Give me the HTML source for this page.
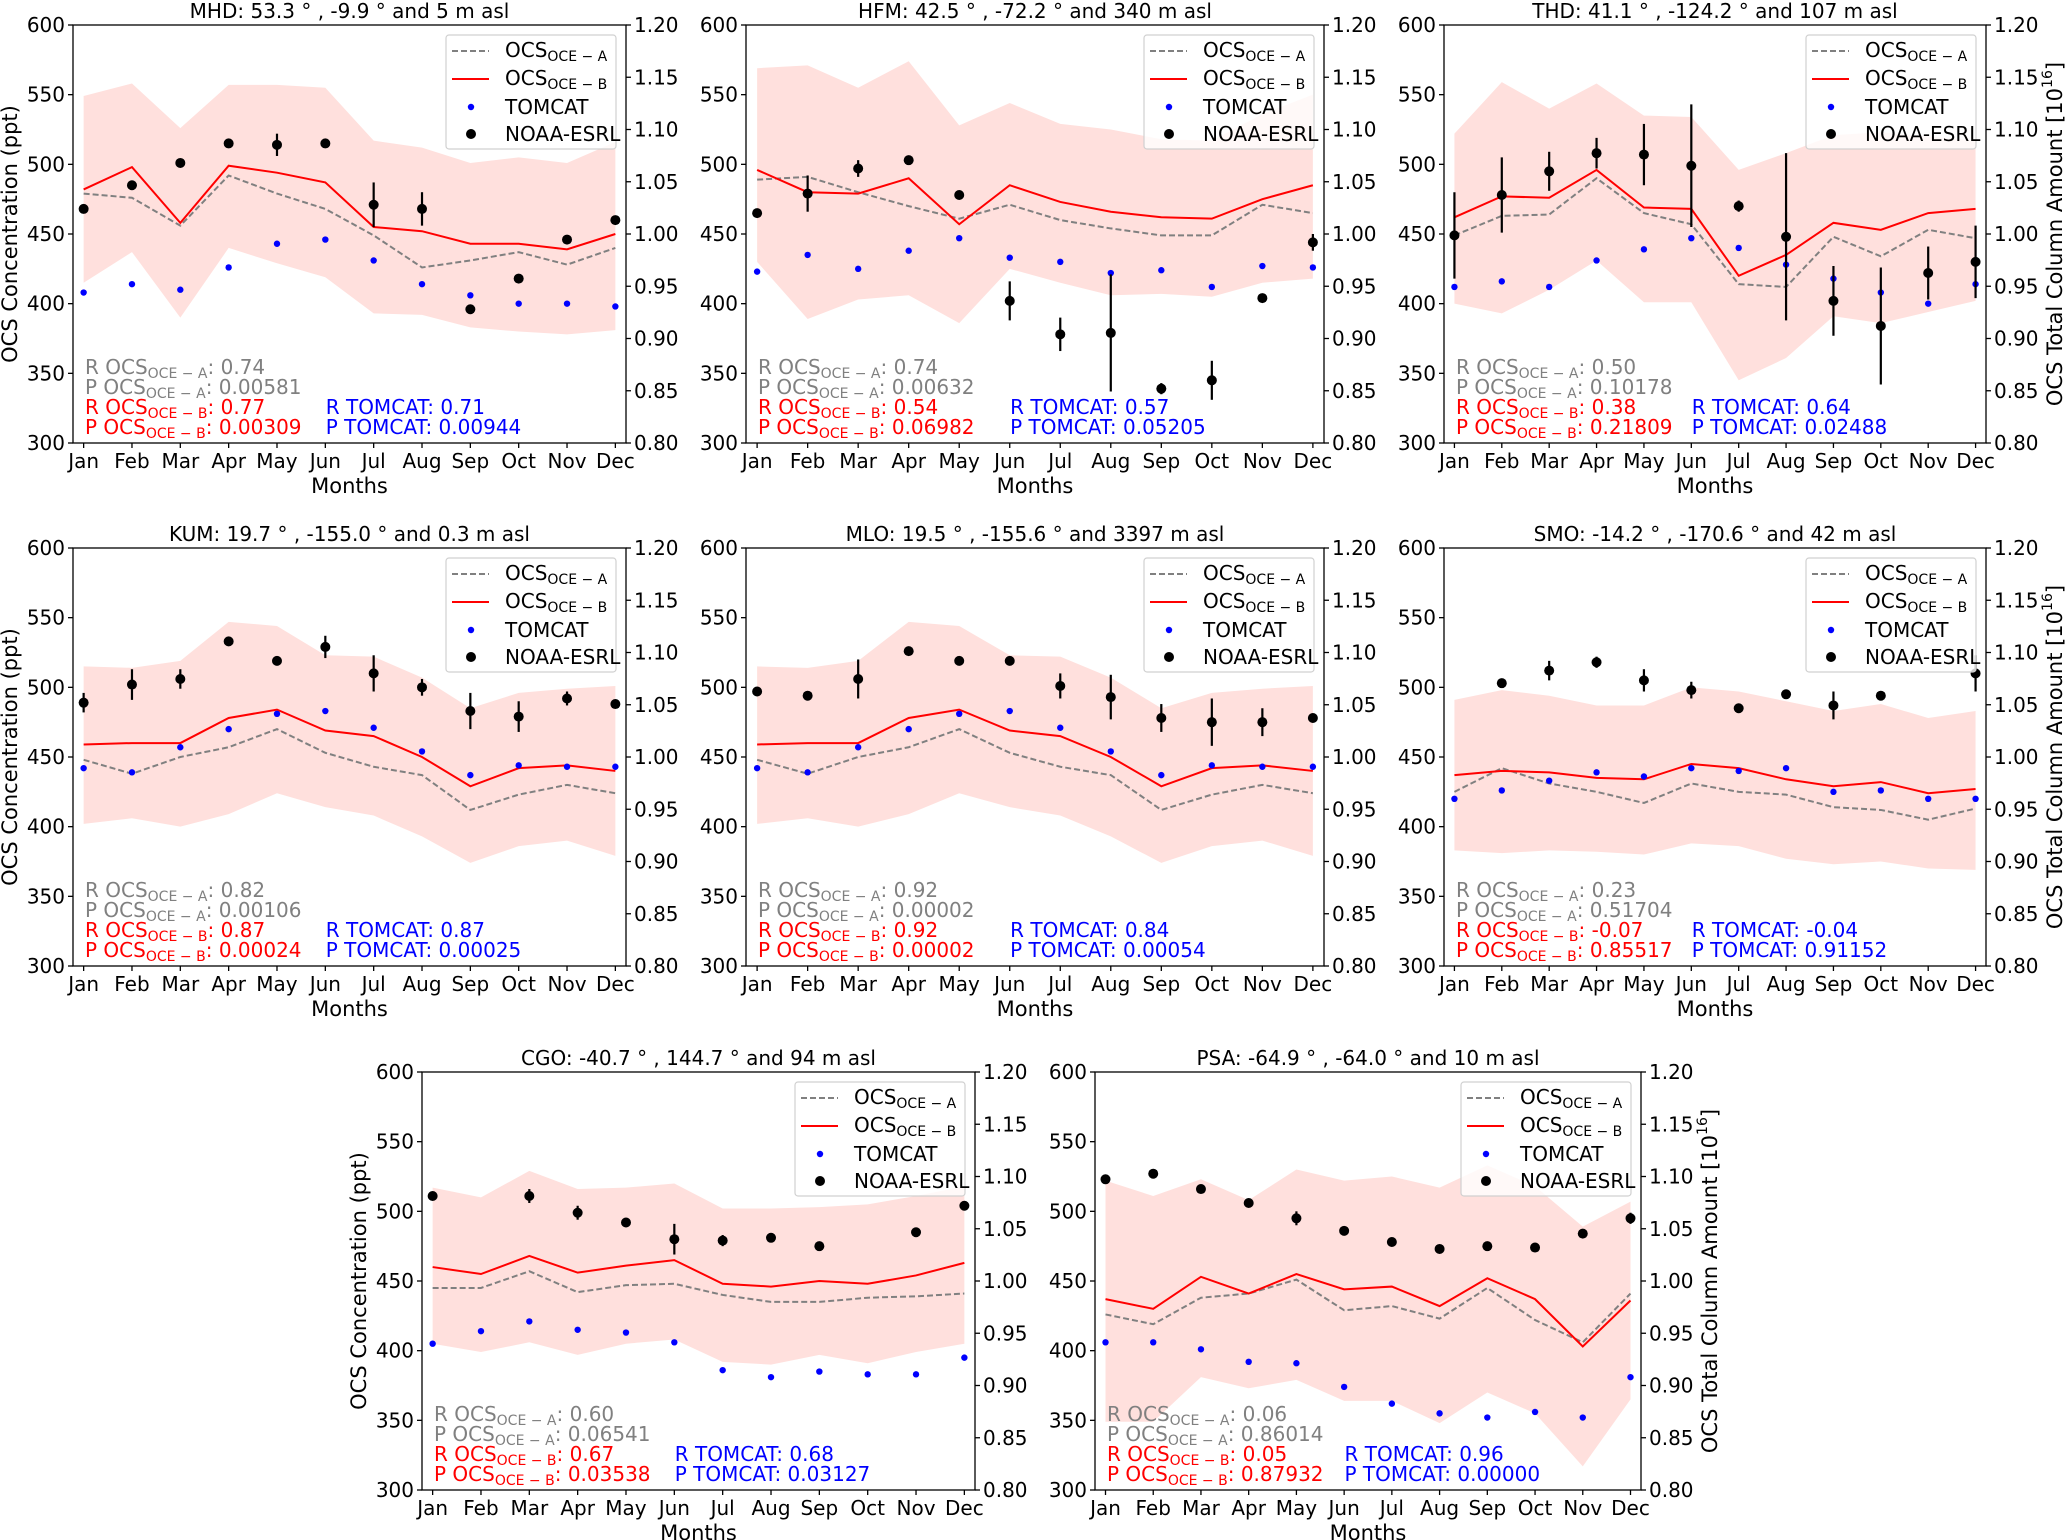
<!DOCTYPE html>
<html><head><meta charset="utf-8"><title>OCS monthly comparison</title>
<style>
html,body{margin:0;padding:0;background:#fff;}
svg{display:block;font-family:"DejaVu Sans","Liberation Sans",sans-serif;}
</style></head>
<body>
<svg id="chart" xmlns="http://www.w3.org/2000/svg" width="2066" height="1540" viewBox="0 0 2066 1540"></svg>
<script>
const months = ['Jan','Feb','Mar','Apr','May','Jun','Jul','Aug','Sep','Oct','Nov','Dec'];
const yTicks = [300,350,400,450,500,550,600];
const y2Ticks = ['0.80','0.85','0.90','0.95','1.00','1.05','1.10','1.15','1.20'];

// MHD
const mhdUpper = [549,558,526,557,557,555,517,512,501,505,501,516];
const mhdLower = [415,437,390,440,429,419,393,392,383,380,378,381];
const mhdOceA = [479,476,456,492,479,468,449,426,431,437,428,440];
const mhdOceB = [482,498,458,499,494,487,455,452,443,443,439,450];
const mhdTomcat = [408,414,410,426,443,446,431,414,406,400,400,398];
const mhdNoaa = [468,485,501,515,514,515,471,468,396,418,446,460];
const mhdErr = [1,2,3,2,8,2,16,12,3,1,2,2];
// HFM
const hfmUpper = [569,571,555,574,528,544,529,525,518,517,536,550];
const hfmLower = [430,389,403,406,386,425,415,406,407,405,415,418];
const hfmOceA = [489,491,480,470,461,471,460,454,449,449,471,465];
const hfmOceB = [496,480,479,490,457,485,473,466,462,461,475,485];
const hfmTomcat = [423,435,425,438,447,433,430,422,424,412,427,426];
const hfmNoaa = [465,479,497,503,478,402,378,379,339,345,404,444];
const hfmErr = [2,13,6,2,2,14,12,42,4,14,2,6];
// THD
const thdUpper = [522,559,540,558,535,534,496,508,521,523,520,517];
const thdLower = [400,393,410,431,401,401,345,361,391,386,394,402];
const thdOceA = [449,463,464,490,465,457,414,412,448,434,453,447];
const thdOceB = [462,477,476,496,469,468,420,435,458,453,465,468];
const thdTomcat = [412,416,412,431,439,447,440,428,418,408,400,414];
const thdNoaa = [449,478,495,508,507,499,470,448,402,384,422,430];
const thdErr = [31,27,14,11,22,44,4,60,25,42,19,26];
// KUM
const kumUpper = [515,514,519,547,544,523,522,507,485,496,499,501];
const kumLower = [402,406,400,409,424,414,408,393,374,386,390,379];
const kumOceA = [448,438,450,457,470,453,443,437,412,423,430,424];
const kumOceB = [459,460,460,478,484,469,465,450,429,442,444,440];
const kumTomcat = [442,439,457,470,481,483,471,454,437,444,443,443];
const kumNoaa = [489,502,506,533,519,529,510,500,483,479,492,488];
const kumErr = [7,11,7,2,2,8,13,6,13,11,5,2];
// MLO
const mloUpper = [515,514,519,547,544,523,522,507,485,496,499,501];
const mloLower = [402,406,400,409,424,414,408,393,374,386,390,379];
const mloOceA = [448,438,450,457,470,453,443,437,412,423,430,424];
const mloOceB = [459,460,460,478,484,469,465,450,429,442,444,440];
const mloTomcat = [442,439,457,470,481,483,471,454,437,444,443,443];
const mloNoaa = [497,494,506,526,519,519,501,493,478,475,475,478];
const mloErr = [2,3,14,2,3,2,9,16,10,17,10,2];
// SMO
const smoUpper = [491,498,494,487,487,500,497,490,483,488,478,483];
const smoLower = [383,381,383,382,380,388,386,377,373,375,370,369];
const smoOceA = [425,442,431,425,417,431,425,423,414,412,405,413];
const smoOceB = [437,440,439,435,434,445,442,434,429,432,424,427];
const smoTomcat = [420,426,433,439,436,442,440,442,425,426,420,420];
const smoNoaa = [null,503,512,518,505,498,485,495,487,494,null,510];
const smoErr = [0,2,7,4,8,6,2,2,10,2,0,13];
// CGO
const cgoUpper = [517,510,529,516,517,520,502,502,503,505,511,518];
const cgoLower = [405,399,406,397,405,408,392,390,397,391,399,405];
const cgoOceA = [445,445,457,442,447,448,440,435,435,438,439,441];
const cgoOceB = [460,455,468,456,461,465,448,446,450,448,454,463];
const cgoTomcat = [405,414,421,415,413,406,386,381,385,383,383,395];
const cgoNoaa = [511,null,511,499,492,480,479,481,475,null,485,504];
const cgoErr = [2,0,5,5,3,11,4,2,3,0,2,3];
// PSA
const psaUpper = [522,511,523,508,530,522,525,517,533,518,489,507];
const psaLower = [349,349,381,373,379,364,364,348,370,355,317,365];
const psaOceA = [426,419,438,441,451,429,432,423,445,422,406,441];
const psaOceB = [437,430,453,441,455,444,446,432,452,437,403,436];
const psaTomcat = [406,406,401,392,391,374,362,355,352,356,352,381];
const psaNoaa = [523,527,516,506,495,486,478,473,475,474,484,495];
const psaErr = [2,2,2,2,5,2,2,2,2,2,2,4];

// statistics text values: R A, P A, R B, P B, R TOMCAT, P TOMCAT
const mhdStats = ['0.74','0.00581','0.77','0.00309','0.71','0.00944'];
const hfmStats = ['0.74','0.00632','0.54','0.06982','0.57','0.05205'];
const thdStats = ['0.50','0.10178','0.38','0.21809','0.64','0.02488'];
const kumStats = ['0.82','0.00106','0.87','0.00024','0.87','0.00025'];
const mloStats = ['0.92','0.00002','0.92','0.00002','0.84','0.00054'];
const smoStats = ['0.23','0.51704','-0.07','0.85517','-0.04','0.91152'];
const cgoStats = ['0.60','0.06541','0.67','0.03538','0.68','0.03127'];
const psaStats = ['0.06','0.86014','0.05','0.87932','0.96','0.00000'];

const panels = [
 {id:'mhd', title:'MHD: 53.3 ° , -9.9 °  and 5 m asl', L:73, R:626, T:25, B:443, yl:'left', d:[mhdUpper,mhdLower,mhdOceA,mhdOceB,mhdTomcat,mhdNoaa,mhdErr], s:mhdStats},
 {id:'hfm', title:'HFM: 42.5 ° , -72.2 °  and 340 m asl', L:746, R:1324, T:25, B:443, yl:'', d:[hfmUpper,hfmLower,hfmOceA,hfmOceB,hfmTomcat,hfmNoaa,hfmErr], s:hfmStats},
 {id:'thd', title:'THD: 41.1 ° , -124.2 °  and 107 m asl', L:1444, R:1986, T:25, B:443, yl:'right', d:[thdUpper,thdLower,thdOceA,thdOceB,thdTomcat,thdNoaa,thdErr], s:thdStats},
 {id:'kum', title:'KUM: 19.7 ° , -155.0 °  and 0.3 m asl', L:73, R:626, T:548, B:966, yl:'left', d:[kumUpper,kumLower,kumOceA,kumOceB,kumTomcat,kumNoaa,kumErr], s:kumStats},
 {id:'mlo', title:'MLO: 19.5 ° , -155.6 °  and 3397 m asl', L:746, R:1324, T:548, B:966, yl:'', d:[mloUpper,mloLower,mloOceA,mloOceB,mloTomcat,mloNoaa,mloErr], s:mloStats},
 {id:'smo', title:'SMO: -14.2 ° , -170.6 °  and 42 m asl', L:1444, R:1986, T:548, B:966, yl:'right', d:[smoUpper,smoLower,smoOceA,smoOceB,smoTomcat,smoNoaa,smoErr], s:smoStats},
 {id:'cgo', title:'CGO: -40.7 ° , 144.7 °  and 94 m asl', L:422, R:975, T:1072, B:1490, yl:'left', d:[cgoUpper,cgoLower,cgoOceA,cgoOceB,cgoTomcat,cgoNoaa,cgoErr], s:cgoStats},
 {id:'psa', title:'PSA: -64.9 ° , -64.0 °  and 10 m asl', L:1095, R:1641, T:1072, B:1490, yl:'right', d:[psaUpper,psaLower,psaOceA,psaOceB,psaTomcat,psaNoaa,psaErr], s:psaStats}
];

const NS = 'http://www.w3.org/2000/svg';
const svg = document.getElementById('chart');
function mk(tag, attrs, parent){
  const e = document.createElementNS(NS, tag);
  for (const k in attrs) e.setAttribute(k, attrs[k]);
  parent.appendChild(e);
  return e;
}
function subText(parent, x, y, pre, sub, post, color, size){
  const t = mk('text', {x:x, y:y, fill:color, 'font-size':size}, parent);
  const a = mk('tspan', {}, t); a.textContent = pre;
  const b = mk('tspan', {'font-size':Math.round(size*0.68), dy:4}, t); b.textContent = sub;
  const c = mk('tspan', {'font-size':size, dy:-4}, t); c.textContent = post;
  return t;
}

panels.forEach(p => {
  const g = mk('g', {}, svg);
  
  
  const W = p.R - p.L, H = p.B - p.T;
  const xs = i => p.L + (i + 0.22) / 11.44 * W;
  const ys = v => p.B - (v - 300) / 300 * H;
  const [up, lo, oa, ob, tc, no, er] = p.d;

  let pts = up.map((v,i)=>xs(i)+','+ys(v)).concat(lo.slice().reverse().map((v,j)=>xs(11-j)+','+ys(v)));
  const band = mk('polygon', {points:pts.join(' '), fill:'#ffe0dd', stroke:'none'}, g);
  
  

  const la = mk('polyline', {points:oa.map((v,i)=>xs(i)+','+ys(v)).join(' '), fill:'none', stroke:'#808080', 'stroke-width':2, 'stroke-dasharray':'6,3'}, g);
  
  
  const lb = mk('polyline', {points:ob.map((v,i)=>xs(i)+','+ys(v)).join(' '), fill:'none', stroke:'#ff0000', 'stroke-width':2}, g);
  
  

  tc.forEach((v,i) => {
    const c = mk('circle', {cx:xs(i), cy:ys(v), r:3.2, fill:'#0000ff'}, g);
    
    
  });
  no.forEach((v,i) => {
    if (v === null) return;
    if (er[i] > 0) {
      const l = mk('line', {x1:xs(i), x2:xs(i), y1:ys(v-er[i]), y2:ys(v+er[i]), stroke:'#000', 'stroke-width':2.2}, g);
      
      
    }
    const c = mk('circle', {cx:xs(i), cy:ys(v), r:5, fill:'#000'}, g);
    
    
  });

  // legend
  const lx = p.R - 180, ly = p.T + 10;
  const lg = mk('g', {}, g);
  
  
  mk('rect', {x:lx, y:ly, width:170, height:114, rx:3, fill:'#fff', 'fill-opacity':0.8, stroke:'#d0d0d0', 'stroke-width':1.2}, lg);
  const rows = [16,44,72,99];
  const e1 = mk('line', {x1:lx+6, x2:lx+43, y1:ly+rows[0], y2:ly+rows[0], stroke:'#808080', 'stroke-width':2, 'stroke-dasharray':'6,3'}, lg);
  
  
  subText(lg, lx+59, ly+rows[0]+6, 'OCS', 'OCE − A', '', '#000', 20);
  const e2 = mk('line', {x1:lx+6, x2:lx+43, y1:ly+rows[1], y2:ly+rows[1], stroke:'#ff0000', 'stroke-width':2}, lg);
  
  
  subText(lg, lx+59, ly+rows[1]+6, 'OCS', 'OCE − B', '', '#000', 20);
  mk('circle', {cx:lx+25, cy:ly+rows[2], r:3.2, fill:'#0000ff'}, lg);
  const t3 = mk('text', {x:lx+59, y:ly+rows[2]+7, 'font-size':20, fill:'#000'}, lg); t3.textContent = 'TOMCAT';
  mk('circle', {cx:lx+25, cy:ly+rows[3], r:5, fill:'#000'}, lg);
  const t4 = mk('text', {x:lx+59, y:ly+rows[3]+7, 'font-size':20, fill:'#000'}, lg); t4.textContent = 'NOAA-ESRL';

  const ax = p.L + 12, bx = p.L + 0.457 * W;
  const s = p.s;
  let t;
  t = subText(g, ax, p.B-69, 'R OCS', 'OCE − A', ': ' + s[0], '#808080', 20);
   
  t = subText(g, ax, p.B-49, 'P OCS', 'OCE − A', ': ' + s[1], '#808080', 20);
   
  t = subText(g, ax, p.B-29, 'R OCS', 'OCE − B', ': ' + s[2], '#ff0000', 20);
   
  t = subText(g, ax, p.B-9, 'P OCS', 'OCE − B', ': ' + s[3], '#ff0000', 20);
   
  t = mk('text', {x:bx, y:p.B-29, 'font-size':20, fill:'#0000ff'}, g); t.textContent = 'R TOMCAT: ' + s[4];
   
  t = mk('text', {x:bx, y:p.B-9, 'font-size':20, fill:'#0000ff'}, g); t.textContent = 'P TOMCAT: ' + s[5];
   

  const fr = mk('rect', {x:p.L, y:p.T, width:W, height:H, fill:'none', stroke:'#000', 'stroke-width':1.3}, g);
  
  

  yTicks.forEach(v => {
    mk('line', {x1:p.L-5, x2:p.L, y1:ys(v), y2:ys(v), stroke:'#000', 'stroke-width':1.3}, g);
    const tt = mk('text', {x:p.L-8, y:ys(v)+7, 'font-size':20, 'text-anchor':'end', fill:'#000'}, g);
    tt.textContent = v;
    
    
  });
  y2Ticks.forEach((v,i) => {
    const yy = p.B - i * H / 8;
    mk('line', {x1:p.R, x2:p.R+5, y1:yy, y2:yy, stroke:'#000', 'stroke-width':1.3}, g);
    const tt = mk('text', {x:p.R+8, y:yy+7, 'font-size':20, fill:'#000'}, g);
    tt.textContent = v;
    
    
  });
  months.forEach((m,i) => {
    mk('line', {x1:xs(i), x2:xs(i), y1:p.B, y2:p.B+5, stroke:'#000', 'stroke-width':1.3}, g);
    const tt = mk('text', {x:xs(i), y:p.B+25, 'font-size':20, 'text-anchor':'middle', fill:'#000'}, g);
    tt.textContent = m;
    
    
  });
  const xl = mk('text', {x:(p.L+p.R)/2, y:p.B+50, 'font-size':21, 'text-anchor':'middle', fill:'#000'}, g);
  xl.textContent = 'Months';
  
  
  const ti = mk('text', {x:(p.L+p.R)/2, y:p.T-7, 'font-size':20, 'text-anchor':'middle', fill:'#000'}, g);
  ti.textContent = p.title;
  
  

  if (p.yl === 'left') {
    const cx = p.L - 62, cy = (p.T + p.B) / 2;
    const yt = mk('text', {x:cx, y:cy, 'font-size':21, 'text-anchor':'middle', 'dominant-baseline':'middle', transform:'rotate(-90 '+cx+' '+cy+')', fill:'#000'}, g);
    yt.textContent = 'OCS Concentration (ppt)';
    
    
  } else if (p.yl === 'right') {
    const cx = p.R + 70, cy = (p.T + p.B) / 2;
    const yt = mk('text', {x:cx, y:cy, 'font-size':21, 'text-anchor':'middle', 'dominant-baseline':'middle', transform:'rotate(-90 '+cx+' '+cy+')', fill:'#000'}, g);
    const a = mk('tspan', {}, yt); a.textContent = 'OCS Total Column Amount [10';
    const b = mk('tspan', {'font-size':14, dy:-8}, yt); b.textContent = '16';
    const c = mk('tspan', {'font-size':21, dy:8}, yt); c.textContent = ']';
    
    
  }
});
</script>
</body></html>
